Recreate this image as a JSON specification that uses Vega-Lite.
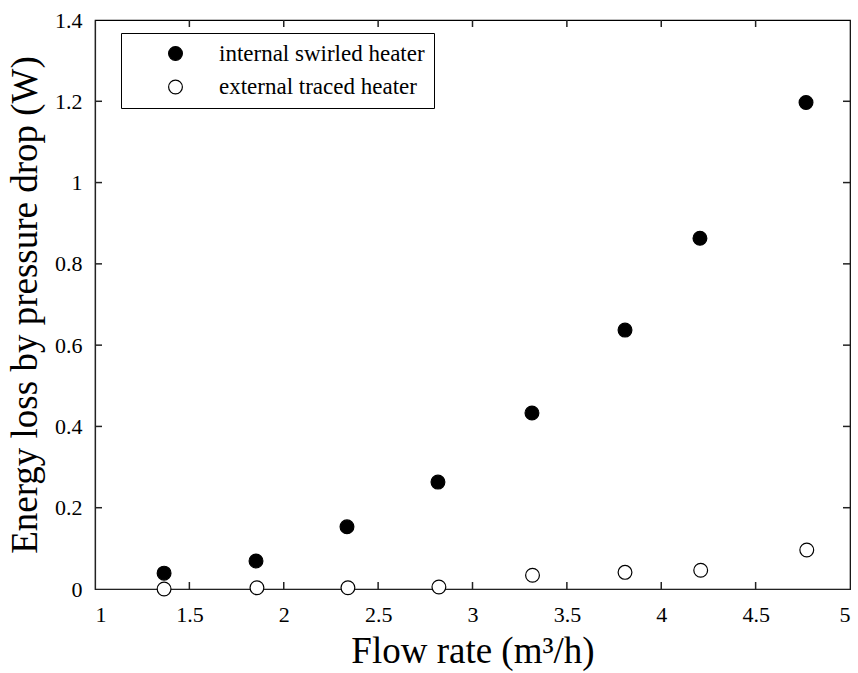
{
  "$schema": "https://vega.github.io/schema/vega-lite/v6.json",
  "autosize": "none",
  "padding": {"left": 95, "top": 20, "right": 8, "bottom": 84},
  "width": 755,
  "height": 569,
  "background": "white",
  "datasets": {
    "points": [
      {"flow": 1.366, "energy": 0.039, "heater": "internal swirled heater"},
      {"flow": 1.853, "energy": 0.069, "heater": "internal swirled heater"},
      {"flow": 2.335, "energy": 0.153, "heater": "internal swirled heater"},
      {"flow": 2.817, "energy": 0.263, "heater": "internal swirled heater"},
      {"flow": 3.315, "energy": 0.433, "heater": "internal swirled heater"},
      {"flow": 3.808, "energy": 0.637, "heater": "internal swirled heater"},
      {"flow": 4.205, "energy": 0.863, "heater": "internal swirled heater"},
      {"flow": 4.767, "energy": 1.197, "heater": "internal swirled heater"},
      {"flow": 1.366, "energy": 0.0, "heater": "external traced heater"},
      {"flow": 1.858, "energy": 0.003, "heater": "external traced heater"},
      {"flow": 2.340, "energy": 0.003, "heater": "external traced heater"},
      {"flow": 2.822, "energy": 0.005, "heater": "external traced heater"},
      {"flow": 3.318, "energy": 0.034, "heater": "external traced heater"},
      {"flow": 3.808, "energy": 0.041, "heater": "external traced heater"},
      {"flow": 4.209, "energy": 0.046, "heater": "external traced heater"},
      {"flow": 4.771, "energy": 0.096, "heater": "external traced heater"}
    ],
    "xticks": [{"flow": 1.5}, {"flow": 2}, {"flow": 2.5}, {"flow": 3}, {"flow": 3.5}, {"flow": 4}, {"flow": 4.5}],
    "yticks": [{"energy": 0.2}, {"energy": 0.4}, {"energy": 0.6}, {"energy": 0.8}, {"energy": 1}, {"energy": 1.2}]
  },
  "layer": [
    {
      "data": {"name": "points"},
      "mark": {"type": "point", "filled": false, "shape": "circle", "size": 190, "stroke": "black", "strokeWidth": 1.2, "opacity": 1, "fillOpacity": 1},
      "encoding": {
        "x": {"field": "flow", "type": "quantitative",
              "scale": {"domain": [1, 5], "nice": false, "zero": false},
              "axis": {"orient": "bottom", "title": "Flow rate (m³/h)", "values": [1, 1.5, 2, 2.5, 3, 3.5, 4, 4.5, 5], "format": "~g",
                       "ticks": false, "labelPadding": 15, "titlePadding": 8}},
        "y": {"field": "energy", "type": "quantitative",
              "scale": {"domain": [0, 1.4], "nice": false},
              "axis": {"orient": "left", "title": "Energy loss by pressure drop (W)", "values": [0, 0.2, 0.4, 0.6, 0.8, 1, 1.2, 1.4], "format": "~g",
                       "ticks": false, "labelPadding": 13, "titlePadding": 10}},
        "fill": {"field": "heater", "type": "nominal",
                 "scale": {"domain": ["internal swirled heater", "external traced heater"], "range": ["black", "white"]},
                 "legend": {"title": null, "orient": "none", "legendX": 26, "legendY": 13,
                            "strokeColor": "black", "padding": 9, "symbolOffset": 34,
                            "symbolType": "circle", "symbolSize": 190, "symbolStrokeColor": "black", "symbolStrokeWidth": 1.2,
                            "labelFont": "Liberation Serif", "labelFontSize": 23, "labelColor": "black", "labelOffset": 32, "labelLimit": 500,
                            "rowPadding": 9.5, "fillColor": "white"}}
      }
    },
    {
      "data": {"name": "xticks"},
      "mark": {"type": "tick", "orient": "vertical", "size": 14, "thickness": 1.5, "color": "#222", "opacity": 1, "clip": true},
      "encoding": {
        "x": {"field": "flow", "type": "quantitative"},
        "y": {"datum": 0, "type": "quantitative"}
      }
    },
    {
      "data": {"name": "xticks"},
      "mark": {"type": "tick", "orient": "vertical", "size": 14, "thickness": 1.5, "color": "#222", "opacity": 1, "clip": true},
      "encoding": {
        "x": {"field": "flow", "type": "quantitative"},
        "y": {"datum": 1.4, "type": "quantitative"}
      }
    },
    {
      "data": {"name": "yticks"},
      "mark": {"type": "tick", "orient": "horizontal", "size": 14, "thickness": 1.5, "color": "#222", "opacity": 1, "clip": true},
      "encoding": {
        "y": {"field": "energy", "type": "quantitative"},
        "x": {"datum": 1, "type": "quantitative"}
      }
    },
    {
      "data": {"name": "yticks"},
      "mark": {"type": "tick", "orient": "horizontal", "size": 14, "thickness": 1.5, "color": "#222", "opacity": 1, "clip": true},
      "encoding": {
        "y": {"field": "energy", "type": "quantitative"},
        "x": {"datum": 5, "type": "quantitative"}
      }
    }
  ],
  "config": {
    "font": "Liberation Serif",
    "view": {"stroke": "black", "strokeWidth": 1.2},
    "axis": {"domainColor": "#222", "domainWidth": 1.2, "grid": false,
             "labelFont": "Liberation Serif", "labelFontSize": 22, "labelColor": "black",
             "titleFont": "Liberation Serif", "titleFontSize": 37, "titleFontWeight": "normal", "titleColor": "black"}
  }
}
